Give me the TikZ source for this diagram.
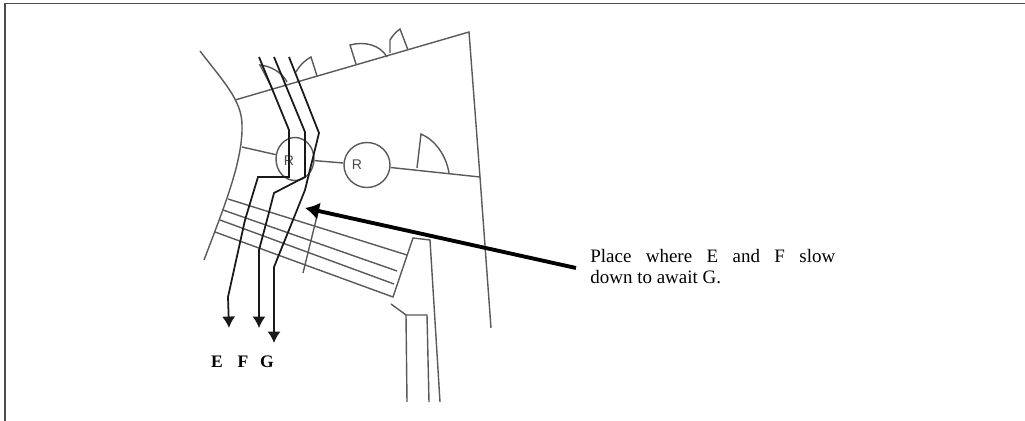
\documentclass[tikz,border=0pt]{standalone}
\usepackage{fontspec}
\setmainfont{Liberation Serif}
\setsansfont{Liberation Sans}
\usepackage{tikz}
\usetikzlibrary{arrows.meta,shapes.geometric}

\begin{document}
\begin{tikzpicture}[x=0.02cm, y=-0.02cm, every node/.style={font=\small},
	plan/.style={draw=black!65, line width=0.8pt},
	track/.style={draw=black!90, line width=1pt, -{Latex[length=6.5pt, width=7.5pt]}},
	rnode/.style={draw=black!65, line width=0.8pt, ellipse, inner sep=0pt},
	rname/.style={font=\sffamily\footnotesize, text=black!70, inner sep=0pt},
	tname/.style={font=\normalsize\bfseries, inner sep=0pt}]
	\useasboundingbox (0,0) rectangle (1025,421);
	\draw[line width=1.1pt, black!70] (5,421) -- (5,3.5) -- (1025,3.5);
	% outer walls
	\draw[plan] (200,51) .. controls (222,80) and (242,100) .. (242,125) .. controls (243,160) and (225,205) .. (204,260);
	\draw[plan] (235,100) -- (469,32) -- (480,177) -- (491,328);
	% doors along the top wall
	\draw[plan] (272,88) -- (260,65) .. controls (270,66) and (282,72) .. (287,82);
	\draw[plan] (296,72) .. controls (300,65) and (304,61) .. (311,57) -- (317,76);
	\draw[plan] (356,64) -- (350,45) .. controls (365,41) and (380,45) .. (387,57);
	\draw[plan] (390,53) -- (390,40) .. controls (393,35) and (396,32) .. (400,29) -- (408,50);
	\draw[plan] (417,168) -- (421,134) .. controls (435,140) and (446,155) .. (449,173);
	% rooms
	\node[rnode, minimum width=0.76cm, minimum height=0.86cm] (R1) at (295,159) {};
	\node[rnode, minimum width=0.92cm, minimum height=0.9cm] (R2) at (367,165) {};
	\node[rname] (R1name) at (289,161) {R};
	\node[rname] (R2name) at (357,165) {R};
	\coordinate (wallL) at (242,147);
	\coordinate (wallR) at (480,177);
	\draw[plan] (wallL) -- (R1);
	\draw[plan] (R1) -- (R2);
	\draw[plan] (R2) -- (wallR);
	% platforms
	\draw[plan] (228,199) -- (407,255);
	\draw[plan] (223,210) -- (397,271);
	\draw[plan] (220,220) -- (394,284);
	\draw[plan] (215,232) -- (393,297) -- (413,238) -- (430,240) -- (440,402);
	\draw[plan] (318,212) -- (303,273);
	\draw[plan] (391,304) -- (406,315) -- (407,402);
	\draw[plan] (406,315) -- (427,315) -- (429,402);
	% routes
	\draw[track] (259,57) -- (289,130) -- (289,177) -- (258,177) -- (245,220) -- (228,297) -- (229,328);
	\draw[track] (274,57) -- (305,132) -- (305,177) -- (274,193) -- (267,220) -- (259,250) -- (259,328);
	\draw[track] (289,57) -- (319,133) -- (305,190) -- (293,220) -- (274,267) -- (274,343);
	\node[tname] (E) at (217,362) {E};
	\node[tname] (F) at (243,362) {F};
	\node[tname] (G) at (267,362) {G};
	% note
	\node[anchor=north west, align=justify, text width=4.9cm, inner sep=0pt, font=\fontsize{10.8}{12}\selectfont] (note) at (590,249) {Place where E and F slow\linebreak down to await G.};
	\coordinate (noteEnd) at (576,268);
	\coordinate (slow) at (305,208);
	\draw[-{Latex[length=8pt, width=10pt]}, line width=2.2pt] (noteEnd) -- (slow);
\end{tikzpicture}
\end{document}
